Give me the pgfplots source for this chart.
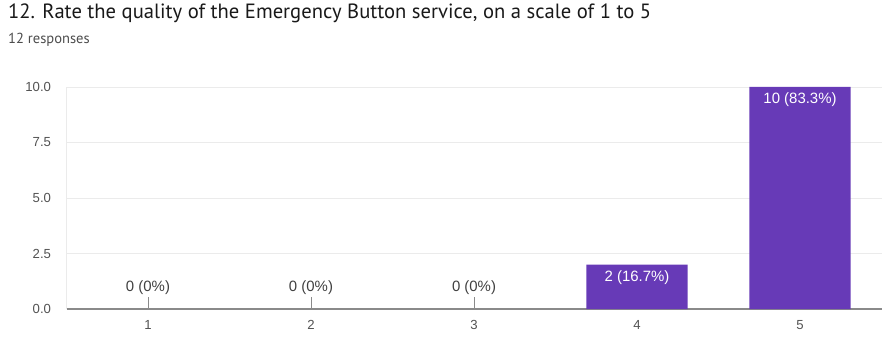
\documentclass[border=0pt]{standalone}
\usepackage{fontspec}
\setmainfont{Liberation Sans}
\newfontfamily\titlefont{PT Sans}
\usepackage{pgfplots}
\pgfplotsset{compat=1.18}
\definecolor{barpurple}{HTML}{673AB7}
\definecolor{ticktext}{HTML}{525252}
\definecolor{labeltext}{HTML}{404040}
\definecolor{gridgray}{HTML}{EBEBEB}
\definecolor{axisgray}{HTML}{8A8A8A}
\begin{document}
\begin{tikzpicture}[x=1bp,y=1bp]
\path[use as bounding box] (0,0) rectangle (883,337);
\node[anchor=base west, inner sep=0, font=\titlefont\fontsize{20.7}{23}\selectfont, text=black!90]
  at (8,319) {12. Rate the quality of the Emergency Button service, on a scale of 1 to 5};
\node[anchor=base west, inner sep=0, font=\titlefont\fontsize{14.6}{16}\selectfont, text=black!70]
  at (8,294) {12 responses};
\begin{axis}[
  at={(66.5bp,28bp)}, anchor=south west,
  scale only axis, width=815bp, height=222bp,
  xmin=0.5, xmax=5.5, ymin=0, ymax=10,
  xtick={1,2,3,4,5},
  ytick={0,2.5,5,7.5,10},
  yticklabel style={/pgf/number format/fixed, /pgf/number format/fixed zerofill,
    /pgf/number format/precision=1, xshift=-12bp},
  /pgf/number format/assume math mode=true,
  tick label style={font=\fontsize{13.2}{15}\selectfont, text=ticktext},
  major tick length=0pt,
  ymajorgrids, grid style={draw=gridgray, line width=0.8bp},
  axis x line*=bottom, axis y line*=left,
  axis line style={-},
  x axis line style={draw=axisgray, line width=1.6bp},
  y axis line style={draw=gridgray, line width=0.8bp},
  xticklabel style={yshift=-8bp},
  clip=false,
]
% bars with counts printed inside their tops
\addplot[ybar, bar width=0.62, bar shift=0pt, fill=barpurple, draw=none,
  nodes near coords, point meta=explicit symbolic,
  every node near coord/.style={anchor=north, text=white, inner sep=3bp, yshift=-2.5bp,
    font=\fontsize{15}{17}\selectfont}]
  coordinates {(4,2) [2 (16.7\%)] (5,10) [10 (83.3\%)]};
% empty categories: short stems carrying their labels
\addplot[ycomb, draw=axisgray, line width=0.8bp, no markers,
  nodes near coords, point meta=explicit symbolic,
  every node near coord/.style={anchor=south, text=labeltext, inner sep=1.5bp,
    font=\fontsize{15}{17}\selectfont}]
  coordinates {(1,0.55) [0 (0\%)] (2,0.55) [0 (0\%)] (3,0.55) [0 (0\%)]};
\end{axis}
\end{tikzpicture}
\end{document}
